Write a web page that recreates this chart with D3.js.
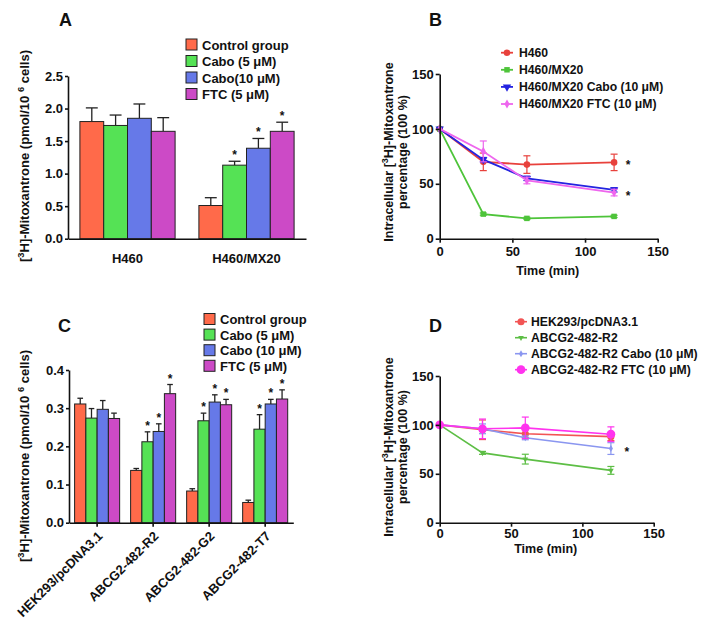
<!DOCTYPE html>
<html>
<head>
<meta charset="utf-8">
<script src="https://cdn.jsdelivr.net/npm/d3@7"></script>
<style>
  body { margin: 0; background: #fff; }
  text { font-family: "Liberation Sans", Arial, sans-serif; font-weight: bold; fill: #111; }
</style>
</head>
<body>
<svg id="fig" width="704" height="629"></svg>
<script>
// ---- data: panel A (bars)
const seriesA = ['Control group', 'Cabo (5 μM)', 'Cabo(10 μM)', 'FTC (5 μM)'];
const groupsA = ['H460', 'H460/MX20'];
const meanA = [[1.80, 1.74, 1.85, 1.65], [0.51, 1.13, 1.39, 1.65]];
const semA = [[0.21, 0.16, 0.22, 0.21], [0.12, 0.06, 0.15, 0.14]];
const starA = [[0, 0, 0, 0], [0, 1, 1, 1]];
const ticksA = [0, 0.5, 1.0, 1.5, 2.0, 2.5];

// ---- data: panel C (bars)
const seriesC = ['Control group', 'Cabo (5 μM)', 'Cabo (10 μM)', 'FTC (5 μM)'];
const groupsC = ['HEK293/pcDNA3.1', 'ABCG2-482-R2', 'ABCG2-482-G2', 'ABCG2-482-T7'];
const meanC = [[0.311, 0.274, 0.297, 0.273], [0.137, 0.212, 0.239, 0.338],
               [0.083, 0.267, 0.316, 0.309], [0.053, 0.245, 0.311, 0.324]];
const semC = [[0.015, 0.025, 0.023, 0.014], [0.005, 0.026, 0.020, 0.024],
              [0.006, 0.020, 0.019, 0.014], [0.006, 0.038, 0.012, 0.024]];
const starC = [[0, 0, 0, 0], [0, 1, 1, 1], [0, 1, 1, 1], [0, 1, 1, 1]];
const ticksC = [0, 0.1, 0.2, 0.3, 0.4];

// ---- data: panel B (time course)
const timeB = [0, 30, 60, 120];
const seriesB = ['H460', 'H460/MX20', 'H460/MX20 Cabo (10 μM)', 'H460/MX20 FTC (10 μM)'];
const meanB = [[100, 70, 67.5, 69.5], [100, 22.4, 18.5, 20.3], [100, 72, 55, 44.5], [100, 79.5, 53, 42]];
const errB = [[0, 8, 8, 7.5], [0, 1, 1, 1], [0, 2, 2, 2], [0, 9.5, 3, 3]];
const starB = [1, 0, 0, 1];   // star beside last point

// ---- data: panel D (time course)
const timeD = [0, 30, 60, 120];
const seriesD = ['HEK293/pcDNA3.1', 'ABCG2-482-R2', 'ABCG2-482-R2 Cabo (10 μM)', 'ABCG2-482-R2 FTC (10 μM)'];
const meanD = [[100, 95, 91, 88], [100, 71.4, 65, 53.5], [100, 96, 86.8, 75.8], [100, 96, 97, 90.5]];
const errD = [[0, 10, 4, 4], [0, 1.5, 5, 4], [0, 5, 2, 6], [0, 10, 11, 7.5]];
const starD = [0, 0, 1, 0];
const timeTicks = [0, 50, 100, 150];
const pctTicks = [0, 50, 100, 150];

const barColors = ['#FF6A4A', '#55E255', '#6679E8', '#CC4AC6'];
const colorsB = ['#E8413C', '#4EC43A', '#2424E0', '#EE66EE'];
const colorsD = ['#F25454', '#5DBE45', '#8A96F0', '#FF33EE'];

const svg = d3.select('#fig');

// rotated title with superscripts: parts = [[text, isSup], ...]
function richText(sel, parts, fs) {
  let up = false;
  parts.forEach(([t, sup]) => {
    const ts = sel.append('tspan').text(t);
    if (sup && !up) { ts.attr('dy', -fs * 0.4).attr('font-size', fs * 0.72); up = true; }
    else if (!sup && up) { ts.attr('dy', fs * 0.4); up = false; }
  });
}

function styleAxis(ax, fs) {
  ax.selectAll('path, line').attr('stroke', '#111').attr('stroke-width', 1.6);
  ax.selectAll('text').attr('font-size', fs).attr('font-family', null).style('fill', '#111');
}

function barPanel(o) {
  const g = svg.append('g');
  const y = d3.scaleLinear().domain([0, o.ticks[o.ticks.length - 1]]).range([o.yb, o.yt]);
  const x0 = d3.scaleBand().domain(o.groups).range([o.xl, o.xr])
    .paddingInner(o.padIn).paddingOuter(o.padOut);
  const x1 = d3.scaleBand().domain(d3.range(o.series.length)).range([0, x0.bandwidth()]);

  const recs = [];
  o.groups.forEach((grp, gi) => o.means[gi].forEach((m, si) =>
    recs.push({ grp, si, m, e: o.sems[gi][si], star: o.stars[gi][si] })));

  // error bars (upper only)
  const eb = g.append('g').selectAll('g').data(recs).join('g')
    .attr('transform', d => `translate(${x0(d.grp) + x1(d.si) + x1.bandwidth() / 2},0)`);
  eb.append('line').attr('y1', d => y(d.m)).attr('y2', d => y(d.m + d.e))
    .attr('stroke', '#222').attr('stroke-width', 1.3);
  eb.append('line').attr('x1', -x1.bandwidth() / 4).attr('x2', x1.bandwidth() / 4)
    .attr('y1', d => y(d.m + d.e)).attr('y2', d => y(d.m + d.e))
    .attr('stroke', '#222').attr('stroke-width', 1.3);
  eb.filter(d => d.star).append('text').attr('y', d => y(d.m + d.e) - 2)
    .attr('text-anchor', 'middle').attr('font-size', 12).text('*');

  g.append('g').selectAll('rect').data(recs).join('rect')
    .attr('x', d => x0(d.grp) + x1(d.si))
    .attr('y', d => y(d.m))
    .attr('width', x1.bandwidth())
    .attr('height', d => y(0) - y(d.m))
    .attr('fill', d => barColors[d.si])
    .attr('stroke', '#222').attr('stroke-width', 1);

  // axes
  const ya = g.append('g').attr('transform', `translate(${o.xl},0)`)
    .call(d3.axisLeft(y).tickValues(o.ticks).tickFormat(d3.format('.1f')).tickSize(3).tickPadding(2).tickSizeOuter(0));
  styleAxis(ya, 13);
  const xa = g.append('g').attr('transform', `translate(0,${o.yb})`)
    .call(d3.axisBottom(x0).tickSize(o.rotate ? 4 : 0).tickSizeOuter(0).tickFormat(''));
  styleAxis(xa, 13);
  if (o.rotate) {
    g.append('g').selectAll('text').data(o.groups).join('text')
      .attr('transform', d => `translate(${x0(d) + x0.bandwidth() / 2 + 3},${o.yb + 11}) rotate(-45)`)
      .attr('text-anchor', 'end').attr('dy', '0.35em').attr('font-size', 13).text(d => d);
  } else {
    g.append('g').selectAll('text').data(o.groups).join('text')
      .attr('x', d => x0(d) + x0.bandwidth() / 2).attr('y', o.yb + 24)
      .attr('text-anchor', 'middle').attr('font-size', 13).text(d => d);
  }

  // y title
  const t = g.append('text').attr('transform', `translate(${o.titleX},${o.titleY}) rotate(-90)`)
    .attr('text-anchor', 'middle').attr('font-size', 13);
  richText(t, [['[', 0], ['3', 1], ['H]-Mitoxantrone (pmol/10 ', 0], ['6', 1], [' cells)', 0]], 13);

  // legend
  const lg = g.append('g').selectAll('g').data(o.series).join('g')
    .attr('transform', (d, i) => `translate(${o.legX},${o.legY + i * o.legStep})`);
  lg.append('rect').attr('x', 0).attr('y', -6).attr('width', 11).attr('height', 11)
    .attr('fill', (d, i) => barColors[i]).attr('stroke', '#222').attr('stroke-width', 1);
  lg.append('text').attr('x', 16).attr('dy', '0.35em').attr('font-size', 13).text(d => d);

  g.append('text').attr('x', o.letterX).attr('y', o.letterY).attr('font-size', 18).text(o.letter);
}

function linePanel(o) {
  const g = svg.append('g');
  const x = d3.scaleLinear().domain([0, 150]).range([o.xl, o.xr]);
  const y = d3.scaleLinear().domain([0, 150]).range([o.yb, o.yt]);
  const line = d3.line().x((d, i) => x(o.time[i])).y(d => y(d));

  o.means.forEach((ms, si) => {
    const c = o.colors[si];
    const sg = g.append('g');
    sg.append('path').datum(ms).attr('d', line).attr('fill', 'none')
      .attr('stroke', c).attr('stroke-width', o.lw);
    const pts = ms.map((m, i) => ({ t: o.time[i], m, e: o.errs[si][i] })).filter(d => d.e > 0);
    const eg = sg.selectAll('g.e').data(pts).join('g').attr('class', 'e')
      .attr('transform', d => `translate(${x(d.t)},0)`);
    eg.append('line').attr('y1', d => y(d.m - d.e)).attr('y2', d => y(d.m + d.e))
      .attr('stroke', c).attr('stroke-width', 1.2);
    [-1, 1].forEach(s => eg.append('line').attr('x1', -3.5).attr('x2', 3.5)
      .attr('y1', d => y(d.m + s * d.e)).attr('y2', d => y(d.m + s * d.e))
      .attr('stroke', c).attr('stroke-width', 1.2));
    const sym = d3.symbol().type(o.symbols[si]).size(o.symSizes[si]);
    sg.selectAll('path.m').data(ms).join('path').attr('class', 'm')
      .attr('transform', (d, i) => `translate(${x(o.time[i])},${y(d)}) rotate(${o.symRot[si]})`)
      .attr('d', sym).attr('fill', c);
    if (o.stars[si]) {
      g.append('text').attr('x', x(o.time[o.time.length - 1]) + o.starDx)
        .attr('y', y(ms[ms.length - 1]) + 7).attr('text-anchor', 'middle')
        .attr('font-size', 12).text('*');
    }
  });

  const xa = g.append('g').attr('transform', `translate(0,${o.yb})`)
    .call(d3.axisBottom(x).tickValues(timeTicks).tickSize(4).tickPadding(o.xPad).tickSizeOuter(0));
  styleAxis(xa, 13);
  const ya = g.append('g').attr('transform', `translate(${o.xl},0)`)
    .call(d3.axisLeft(y).tickValues(pctTicks).tickSize(4).tickPadding(2).tickSizeOuter(0));
  styleAxis(ya, 13);

  g.append('text').attr('x', (o.xl + o.xr) / 2 - 1).attr('y', o.xTitleY)
    .attr('text-anchor', 'middle').attr('font-size', 12.5).text('Time (min)');

  const t1 = g.append('text').attr('transform', `translate(${o.titleX},${o.titleY}) rotate(-90)`)
    .attr('text-anchor', 'middle').attr('font-size', 12.5);
  richText(t1, [['Intracellular [', 0], ['3', 1], ['H]-Mitoxantrone', 0]], 12.5);
  g.append('text').attr('transform', `translate(${o.titleX + 14},${o.titleY}) rotate(-90)`)
    .attr('text-anchor', 'middle').attr('font-size', 12.5).text('percentage (100 %)');

  const lg = g.append('g').selectAll('g').data(o.series).join('g')
    .attr('transform', (d, i) => `translate(${o.legX},${o.legY + i * o.legStep})`);
  lg.append('line').attr('x1', -6).attr('x2', 6).attr('stroke', (d, i) => o.colors[i]).attr('stroke-width', o.lw);
  lg.append('path').attr('d', (d, i) => d3.symbol().type(o.symbols[i]).size(o.symSizes[i])())
    .attr('transform', (d, i) => `rotate(${o.symRot[i]})`).attr('fill', (d, i) => o.colors[i]);
  lg.append('text').attr('x', o.legTx).attr('dy', '0.35em').attr('font-size', 12.2).text(d => d);

  g.append('text').attr('x', o.letterX).attr('y', o.letterY).attr('font-size', 18).text(o.letter);
}

barPanel({
  series: seriesA, groups: groupsA, means: meanA, sems: semA, stars: starA, ticks: ticksA,
  xl: 68, xr: 306, yb: 238.7, yt: 76, padIn: 0.2, padOut: 0.1, rotate: false,
  titleX: 29, titleY: 156, legX: 186, legY: 45, legStep: 16.5,
  letter: 'A', letterX: 59, letterY: 26
});

barPanel({
  series: seriesC, groups: groupsC, means: meanC, sems: semC, stars: starC, ticks: ticksC,
  xl: 69, xr: 293.3, yb: 522.7, yt: 370, padIn: 0.196, padOut: 0.1, rotate: true,
  titleX: 29, titleY: 456, legX: 204, legY: 319.5, legStep: 15.6,
  letter: 'C', letterX: 58, letterY: 332
});

linePanel({
  time: timeB, series: seriesB, means: meanB, errs: errB, stars: starB, colors: colorsB,
  symbols: [d3.symbolCircle, d3.symbolSquare, d3.symbolTriangle, d3.symbolDiamond],
  symSizes: [34, 30, 30, 24], symRot: [0, 0, 180, 0], lw: 1.8,
  xl: 439.7, xr: 657.7, yb: 238.7, yt: 74, xPad: 4, xTitleY: 275, starDx: 14,
  titleX: 393, titleY: 152, legX: 507, legY: 52.7, legStep: 17.1, legTx: 12,
  letter: 'B', letterX: 429, letterY: 26
});

linePanel({
  time: timeD, series: seriesD, means: meanD, errs: errD, stars: starD, colors: colorsD,
  symbols: [d3.symbolCircle, d3.symbolTriangle, d3.symbolDiamond, d3.symbolCircle],
  symSizes: [40, 14, 14, 60], symRot: [0, 180, 0, 0], lw: 1.6,
  xl: 439.7, xr: 653.7, yb: 522.7, yt: 376, xPad: 2, xTitleY: 553, starDx: 16,
  titleX: 393, titleY: 447, legX: 521, legY: 321.7, legStep: 16, legTx: 10,
  letter: 'D', letterX: 429, letterY: 332
});
</script>
</body>
</html>
